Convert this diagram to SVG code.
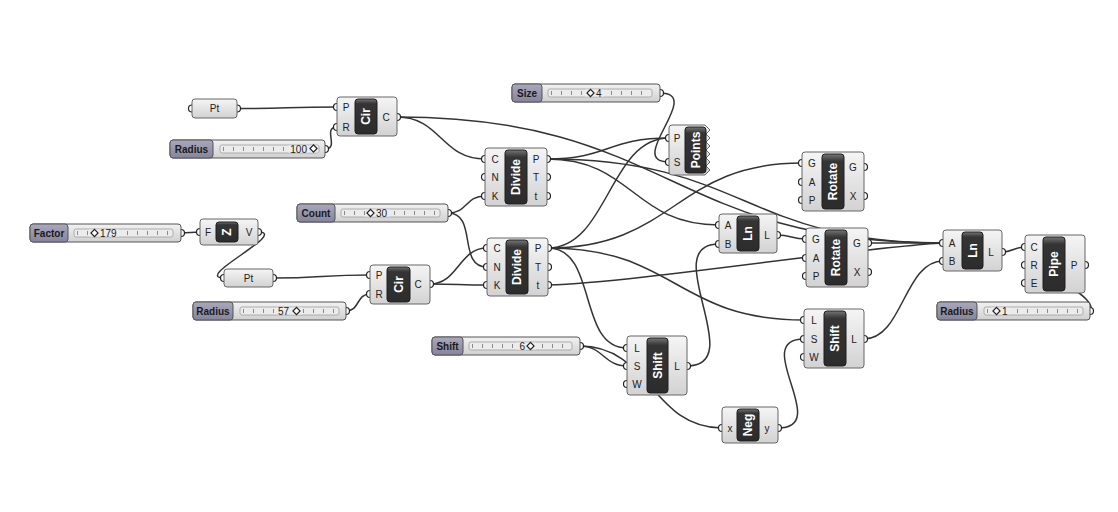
<svg xmlns="http://www.w3.org/2000/svg" width="1118" height="512" viewBox="0 0 1118 512">
<defs>
<linearGradient id="gBody" x1="0" y1="0" x2="0" y2="1"><stop offset="0" stop-color="#f5f5f5"/><stop offset="1" stop-color="#d2d2d2"/></linearGradient>
<linearGradient id="gDark" x1="0" y1="0" x2="0" y2="1"><stop offset="0" stop-color="#777"/><stop offset="0.1" stop-color="#444"/><stop offset="0.14" stop-color="#343434"/><stop offset="1" stop-color="#2c2c2c"/></linearGradient>
<linearGradient id="gSl" x1="0" y1="0" x2="0" y2="1"><stop offset="0" stop-color="#f2f2f2"/><stop offset="1" stop-color="#d0d0d0"/></linearGradient>
<linearGradient id="gLbl" x1="0" y1="0" x2="0" y2="1"><stop offset="0" stop-color="#a9a8bd"/><stop offset="1" stop-color="#85849c"/></linearGradient>
<style>
.wire{fill:none;stroke:#333;stroke-width:1.5}
.body{fill:url(#gBody);stroke:#666;stroke-width:1}
.dark{fill:url(#gDark);stroke:#1e1e1e;stroke-width:1}
.nm{font-family:"Liberation Sans",Arial,sans-serif;font-size:12px;font-weight:bold;fill:#fff;text-anchor:middle;dominant-baseline:central}
.pl{font-family:"Liberation Sans",Arial,sans-serif;font-size:10px;fill:#222;text-anchor:middle;dominant-baseline:central}
.grip{fill:#fff;stroke:#222;stroke-width:1.2}
.sl{fill:url(#gSl);stroke:#555;stroke-width:1}
.lbl{fill:url(#gLbl);stroke:#555;stroke-width:1}
.lt{font-family:"Liberation Sans",Arial,sans-serif;font-size:10px;font-weight:bold;fill:#1a1a1a;dominant-baseline:central;text-anchor:middle}
.track{fill:#ececec;stroke:#a0a0a0;stroke-width:0.8}
.tick{stroke:#8a8a8a;stroke-width:4;stroke-dasharray:1 9}
.vbg{fill:#ececec}
.val{font-family:"Liberation Sans",Arial,sans-serif;font-size:10px;fill:#1a1a1a;dominant-baseline:central}
.dia{fill:#fff;stroke:#222;stroke-width:1.2}
</style>
</defs>
<rect width="1118" height="512" fill="#fff"/>

<g id="connectors">
<path class="wire" d="M237,108.5 C287,108.5 287,107 337,107"/>
<path class="wire" d="M325,149 C340,149 322,127 337,127"/>
<path class="wire" d="M397,117 C441,117 441,159 485,159"/>
<path class="wire" d="M397,117 C670,117 670,243 943,243"/>
<path class="wire" d="M547,159 C608,159 608,138 669,138"/>
<path class="wire" d="M547,159 C633,159 633,225 719,225"/>
<path class="wire" d="M547,159 C745,159 745,243 943,243"/>
<path class="wire" d="M548,248 C608,248 609,138 669,138"/>
<path class="wire" d="M548,248 C675,248 675,163 802,163"/>
<path class="wire" d="M548,248 C598,248 577,348 627,348"/>
<path class="wire" d="M548,248 C676,248 676,320 804,320"/>
<path class="wire" d="M548,285 C640,282 860,247 943,243"/>
<path class="wire" d="M448,213 C468,213 465,196 485,196"/>
<path class="wire" d="M448,213 C478,213 457,267 487,267"/>
<path class="wire" d="M430,284 C458,284 459,248 487,248"/>
<path class="wire" d="M430,284 C458,284 459,285 487,285"/>
<path class="wire" d="M181,233 L200,232"/>
<path class="wire" d="M258,232 C290,232 192,278 224,278"/>
<path class="wire" d="M273,278 C321,278 322,275 370,275"/>
<path class="wire" d="M346,311 C360,311 356,294 370,294"/>
<path class="wire" d="M660,93 C705,93 624,162 669,162"/>
<path class="wire" d="M777,235 C792,235 791,239 806,239"/>
<path class="wire" d="M868,243 C905,243 906,243 943,243"/>
<path class="wire" d="M687,366 C750,366 656,244 719,244"/>
<path class="wire" d="M580,346 C603,346 604,366 627,366"/>
<path class="wire" d="M580,346 C650,346 652,428 722,428"/>
<path class="wire" d="M778,428 C833,428 749,339 804,339"/>
<path class="wire" d="M864,339 C903,339 904,261 943,261"/>
<path class="wire" d="M1002,252 C1013,252 1014,247 1025,247"/>
<path class="wire" d="M1090,311 C1100,300 1042,268 1025,265"/>
</g>

<g id="pt_top">
<circle class="grip" cx="192" cy="108.5" r="3.5"/><circle class="grip" cx="237" cy="108.5" r="3.5"/>
<rect class="body" x="192" y="99" width="45" height="19" rx="3"/>
<text class="pl" x="214.5" y="108.5">Pt</text>
</g>

<g id="slider_radius_top">
<circle class="grip" cx="325" cy="149" r="3.5"/>
<rect class="sl" x="170" y="140" width="155" height="18" rx="3"/>
<rect class="lbl" x="170" y="140" width="43" height="18" rx="3"/>
<text class="lt" x="191.5" y="149">Radius</text>
<rect class="track" x="220" y="145" width="99" height="8" rx="2"/>
<line class="tick" x1="223" y1="149" x2="317" y2="149"/>
<rect class="vbg" x="288" y="145.5" width="30" height="7"/>
<text class="val" x="307" y="149" text-anchor="end">100</text>
<rect class="dia" x="311" y="146" width="5" height="5" transform="rotate(45 313.5 148.5)"/>
</g>

<g id="cir_top">
<circle class="grip" cx="337" cy="107" r="3.5"/><circle class="grip" cx="337" cy="127" r="3.5"/><circle class="grip" cx="397" cy="117" r="3.5"/>
<rect class="body" x="337" y="97" width="60" height="39" rx="3"/>
<rect class="dark" x="355" y="99" width="22" height="35" rx="3"/>
<text class="nm" x="366" y="116.5" transform="rotate(-90 366 116.5)">Cir</text>
<text class="pl" x="346" y="107">P</text><text class="pl" x="346" y="127">R</text><text class="pl" x="386" y="117">C</text>
</g>

<g id="slider_size">
<circle class="grip" cx="660" cy="93" r="3.5"/>
<rect class="sl" x="512" y="84" width="148" height="18" rx="3"/>
<rect class="lbl" x="512" y="84" width="30" height="18" rx="3"/>
<text class="lt" x="527" y="93">Size</text>
<rect class="track" x="548" y="89" width="104" height="8" rx="2"/>
<line class="tick" x1="551" y1="93" x2="650" y2="93"/>
<rect class="vbg" x="585" y="89.5" width="19" height="7"/>
<rect class="dia" x="588" y="90.5" width="5" height="5" transform="rotate(45 590.5 93)"/>
<text class="val" x="596" y="93">4</text>
</g>

<g id="points">
<circle class="grip" cx="669" cy="138" r="3.5"/><circle class="grip" cx="669" cy="162" r="3.5"/>
<path class="body" d="M672,125 L705,125 L710,130 L706,134 L710,138 L706,142 L710,146 L706,150 L710,154 L706,158 L710,162 L706,166 L710,170 L705,175 L672,175 Q669,175 669,172 L669,128 Q669,125 672,125 Z"/>
<rect class="dark" x="685" y="127" width="21" height="46" rx="3"/>
<text class="nm" x="695.5" y="150" transform="rotate(-90 695.5 150)">Points</text>
<text class="pl" x="677" y="138">P</text><text class="pl" x="677" y="162">S</text>
</g>

<g id="divide_top">
<circle class="grip" cx="485" cy="159" r="3.5"/><circle class="grip" cx="485" cy="177" r="3.5"/><circle class="grip" cx="485" cy="196" r="3.5"/>
<circle class="grip" cx="547" cy="159" r="3.5"/><circle class="grip" cx="547" cy="177" r="3.5"/><circle class="grip" cx="547" cy="196" r="3.5"/>
<rect class="body" x="485" y="148" width="62" height="58" rx="3"/>
<rect class="dark" x="505" y="150" width="22" height="54" rx="3"/>
<text class="nm" x="516" y="177" transform="rotate(-90 516 177)">Divide</text>
<text class="pl" x="495" y="159">C</text><text class="pl" x="495" y="177">N</text><text class="pl" x="495" y="196">K</text>
<text class="pl" x="536" y="159">P</text><text class="pl" x="536" y="177">T</text><text class="pl" x="536" y="196">t</text>
</g>

<g id="slider_count">
<circle class="grip" cx="448" cy="213" r="3.5"/>
<rect class="sl" x="297" y="204" width="151" height="18" rx="3"/>
<rect class="lbl" x="297" y="204" width="38" height="18" rx="3"/>
<text class="lt" x="316" y="213">Count</text>
<rect class="track" x="341" y="209" width="99" height="8" rx="2"/>
<line class="tick" x1="344" y1="213" x2="438" y2="213"/>
<rect class="vbg" x="365" y="209.5" width="25" height="7"/>
<rect class="dia" x="368" y="210.5" width="5" height="5" transform="rotate(45 370.5 213)"/>
<text class="val" x="376" y="213">30</text>
</g>

<g id="slider_factor">
<circle class="grip" cx="181" cy="233" r="3.5"/>
<rect class="sl" x="30" y="224" width="151" height="18" rx="3"/>
<rect class="lbl" x="30" y="224" width="38" height="18" rx="3"/>
<text class="lt" x="49" y="233">Factor</text>
<rect class="track" x="74" y="229" width="99" height="8" rx="2"/>
<line class="tick" x1="77" y1="233" x2="171" y2="233"/>
<rect class="vbg" x="89" y="229.5" width="30" height="7"/>
<rect class="dia" x="92" y="230.5" width="5" height="5" transform="rotate(45 94.5 233)"/>
<text class="val" x="100" y="233">179</text>
</g>

<g id="unit_z">
<circle class="grip" cx="200" cy="232" r="3.5"/><circle class="grip" cx="258" cy="232" r="3.5"/>
<rect class="body" x="200" y="219" width="58" height="26" rx="3"/>
<rect class="dark" x="216" y="222" width="22" height="20" rx="3"/>
<text class="nm" x="227" y="232" transform="rotate(-90 227 232)">Z</text>
<text class="pl" x="208" y="232">F</text><text class="pl" x="249" y="232">V</text>
</g>

<g id="pt_mid">
<circle class="grip" cx="224" cy="278" r="3.5"/><circle class="grip" cx="273" cy="278" r="3.5"/>
<rect class="body" x="224" y="269" width="49" height="18" rx="3"/>
<text class="pl" x="248.5" y="278">Pt</text>
</g>

<g id="slider_radius_mid">
<circle class="grip" cx="346" cy="311" r="3.5"/>
<rect class="sl" x="193" y="302" width="153" height="18" rx="3"/>
<rect class="lbl" x="193" y="302" width="40" height="18" rx="3"/>
<text class="lt" x="213" y="311">Radius</text>
<rect class="track" x="240" y="307" width="99" height="8" rx="2"/>
<line class="tick" x1="243" y1="311" x2="337" y2="311"/>
<rect class="vbg" x="276" y="307.5" width="26" height="7"/>
<text class="val" x="289" y="311" text-anchor="end">57</text>
<rect class="dia" x="294" y="308.5" width="5" height="5" transform="rotate(45 296.5 311)"/>
</g>

<g id="cir_mid">
<circle class="grip" cx="370" cy="275" r="3.5"/><circle class="grip" cx="370" cy="294" r="3.5"/><circle class="grip" cx="430" cy="284" r="3.5"/>
<rect class="body" x="370" y="265" width="60" height="39" rx="3"/>
<rect class="dark" x="387" y="267" width="23" height="35" rx="3"/>
<text class="nm" x="398.5" y="284.5" transform="rotate(-90 398.5 284.5)">Cir</text>
<text class="pl" x="379" y="275">P</text><text class="pl" x="379" y="294">R</text><text class="pl" x="418" y="284">C</text>
</g>

<g id="divide_bot">
<circle class="grip" cx="487" cy="248" r="3.5"/><circle class="grip" cx="487" cy="267" r="3.5"/><circle class="grip" cx="487" cy="285" r="3.5"/>
<circle class="grip" cx="548" cy="248" r="3.5"/><circle class="grip" cx="548" cy="267" r="3.5"/><circle class="grip" cx="548" cy="285" r="3.5"/>
<rect class="body" x="487" y="238" width="61" height="58" rx="3"/>
<rect class="dark" x="506" y="240" width="22" height="54" rx="3"/>
<text class="nm" x="517" y="267" transform="rotate(-90 517 267)">Divide</text>
<text class="pl" x="497" y="248">C</text><text class="pl" x="497" y="267">N</text><text class="pl" x="497" y="285">K</text>
<text class="pl" x="538" y="248">P</text><text class="pl" x="538" y="267">T</text><text class="pl" x="538" y="285">t</text>
</g>

<g id="rotate_top">
<circle class="grip" cx="802" cy="163" r="3.5"/><circle class="grip" cx="802" cy="182" r="3.5"/><circle class="grip" cx="802" cy="200" r="3.5"/>
<circle class="grip" cx="864" cy="167" r="3.5"/><circle class="grip" cx="864" cy="196" r="3.5"/>
<rect class="body" x="802" y="152" width="62" height="59" rx="3"/>
<rect class="dark" x="822" y="154" width="22" height="55" rx="3"/>
<text class="nm" x="833" y="181.5" transform="rotate(-90 833 181.5)">Rotate</text>
<text class="pl" x="812" y="163">G</text><text class="pl" x="812" y="182">A</text><text class="pl" x="812" y="200">P</text>
<text class="pl" x="853" y="167">G</text><text class="pl" x="853" y="196">X</text>
</g>

<g id="ln_mid">
<circle class="grip" cx="719" cy="225" r="3.5"/><circle class="grip" cx="719" cy="244" r="3.5"/><circle class="grip" cx="777" cy="235" r="3.5"/>
<rect class="body" x="719" y="214" width="58" height="39" rx="3"/>
<rect class="dark" x="737" y="216" width="22" height="35" rx="3"/>
<text class="nm" x="748" y="233.5" transform="rotate(-90 748 233.5)">Ln</text>
<text class="pl" x="728" y="225">A</text><text class="pl" x="728" y="244">B</text><text class="pl" x="767" y="235">L</text>
</g>

<g id="rotate_bot">
<circle class="grip" cx="806" cy="239" r="3.5"/><circle class="grip" cx="806" cy="258" r="3.5"/><circle class="grip" cx="806" cy="276" r="3.5"/>
<circle class="grip" cx="868" cy="243" r="3.5"/><circle class="grip" cx="868" cy="272" r="3.5"/>
<rect class="body" x="806" y="228" width="62" height="59" rx="3"/>
<rect class="dark" x="825" y="230" width="22" height="55" rx="3"/>
<text class="nm" x="836" y="257.5" transform="rotate(-90 836 257.5)">Rotate</text>
<text class="pl" x="816" y="239">G</text><text class="pl" x="816" y="258">A</text><text class="pl" x="816" y="276">P</text>
<text class="pl" x="857" y="243">G</text><text class="pl" x="857" y="272">X</text>
</g>

<g id="ln_right">
<circle class="grip" cx="943" cy="243" r="3.5"/><circle class="grip" cx="943" cy="261" r="3.5"/><circle class="grip" cx="1002" cy="252" r="3.5"/>
<rect class="body" x="943" y="230" width="59" height="41" rx="3"/>
<rect class="dark" x="962" y="232" width="21" height="37" rx="3"/>
<text class="nm" x="972.5" y="250.5" transform="rotate(-90 972.5 250.5)">Ln</text>
<text class="pl" x="952" y="243">A</text><text class="pl" x="952" y="261">B</text><text class="pl" x="991" y="252">L</text>
</g>

<g id="pipe">
<circle class="grip" cx="1025" cy="247" r="3.5"/><circle class="grip" cx="1025" cy="265" r="3.5"/><circle class="grip" cx="1025" cy="283" r="3.5"/><circle class="grip" cx="1085" cy="265" r="3.5"/>
<rect class="body" x="1025" y="235" width="60" height="58" rx="3"/>
<rect class="dark" x="1043" y="237" width="22" height="54" rx="3"/>
<text class="nm" x="1054" y="264" transform="rotate(-90 1054 264)">Pipe</text>
<text class="pl" x="1034" y="247">C</text><text class="pl" x="1034" y="265">R</text><text class="pl" x="1034" y="283">E</text>
<text class="pl" x="1074" y="265">P</text>
</g>

<g id="slider_radius_right">
<circle class="grip" cx="1090" cy="311" r="3.5"/>
<rect class="sl" x="937" y="302" width="153" height="18" rx="3"/>
<rect class="lbl" x="937" y="302" width="40" height="18" rx="3"/>
<text class="lt" x="957" y="311">Radius</text>
<rect class="track" x="984" y="307" width="99" height="8" rx="2"/>
<line class="tick" x1="987" y1="311" x2="1081" y2="311"/>
<rect class="vbg" x="991" y="307.5" width="18" height="7"/>
<rect class="dia" x="994" y="308.5" width="5" height="5" transform="rotate(45 996.5 311)"/>
<text class="val" x="1002" y="311">1</text>
</g>

<g id="slider_shift">
<circle class="grip" cx="580" cy="346" r="3.5"/>
<rect class="sl" x="432" y="337" width="148" height="18" rx="3"/>
<rect class="lbl" x="432" y="337" width="31" height="18" rx="3"/>
<text class="lt" x="447.5" y="346">Shift</text>
<rect class="track" x="469" y="342" width="103" height="8" rx="2"/>
<line class="tick" x1="472" y1="346" x2="570" y2="346"/>
<rect class="vbg" x="516" y="342.5" width="20" height="7"/>
<text class="val" x="525" y="346" text-anchor="end">6</text>
<rect class="dia" x="528" y="343.5" width="5" height="5" transform="rotate(45 530.5 346)"/>
</g>

<g id="shift_left">
<circle class="grip" cx="627" cy="348" r="3.5"/><circle class="grip" cx="627" cy="366" r="3.5"/><circle class="grip" cx="627" cy="384" r="3.5"/><circle class="grip" cx="687" cy="366" r="3.5"/>
<rect class="body" x="627" y="336" width="60" height="59" rx="3"/>
<rect class="dark" x="647" y="338" width="21" height="55" rx="3"/>
<text class="nm" x="657.5" y="365.5" transform="rotate(-90 657.5 365.5)">Shift</text>
<text class="pl" x="637" y="348">L</text><text class="pl" x="637" y="366">S</text><text class="pl" x="637" y="384">W</text>
<text class="pl" x="677" y="366">L</text>
</g>

<g id="shift_right">
<circle class="grip" cx="804" cy="320" r="3.5"/><circle class="grip" cx="804" cy="339" r="3.5"/><circle class="grip" cx="804" cy="357" r="3.5"/><circle class="grip" cx="864" cy="339" r="3.5"/>
<rect class="body" x="804" y="309" width="60" height="59" rx="3"/>
<rect class="dark" x="824" y="311" width="22" height="55" rx="3"/>
<text class="nm" x="835" y="338.5" transform="rotate(-90 835 338.5)">Shift</text>
<text class="pl" x="814" y="320">L</text><text class="pl" x="814" y="339">S</text><text class="pl" x="814" y="357">W</text>
<text class="pl" x="854" y="339">L</text>
</g>

<g id="neg">
<circle class="grip" cx="722" cy="428" r="3.5"/><circle class="grip" cx="778" cy="428" r="3.5"/>
<rect class="body" x="722" y="407" width="56" height="36" rx="3"/>
<rect class="dark" x="737" y="409" width="22" height="32" rx="3"/>
<text class="nm" x="748" y="425" transform="rotate(-90 748 425)">Neg</text>
<text class="pl" x="730" y="428">x</text><text class="pl" x="767" y="428">y</text>
</g>
</svg>
